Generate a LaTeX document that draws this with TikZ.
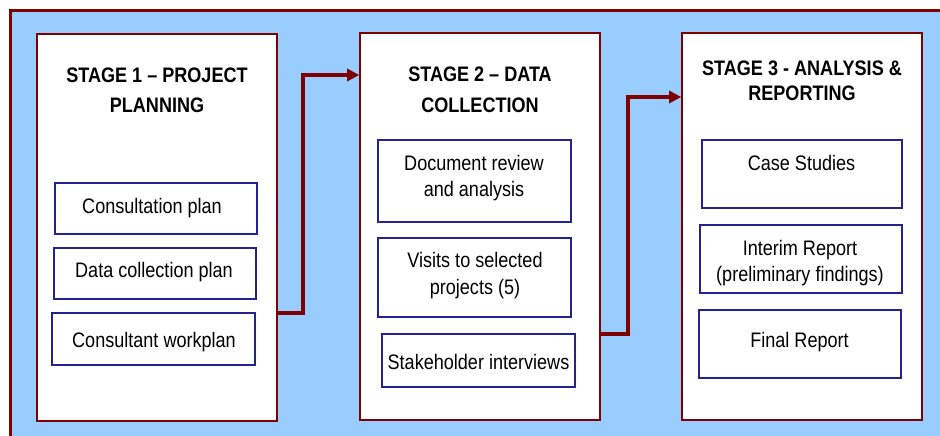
\documentclass[tikz,border=0pt]{standalone}
\usepackage{fontspec}
\setmainfont{Liberation Sans}[FakeStretch=0.86]
\usetikzlibrary{arrows.meta}
\definecolor{frameRed}{RGB}{128,0,0}
\definecolor{skyFill}{RGB}{153,204,255}
\definecolor{navyLine}{RGB}{36,36,145}
\begin{document}
\begin{tikzpicture}[x=1pt,y=-1pt,
  stagebox/.style={draw=frameRed, line width=1.6pt, fill=white, rectangle, inner sep=0pt, minimum width=240, minimum height=387},
  itembox/.style={draw=navyLine, line width=1.6pt, fill=white, rectangle, inner sep=0pt},
  titletxt/.style={anchor=base, inner sep=0pt, align=center, font=\fontsize{21}{30.5}\selectfont\bfseries},
  itemtxt/.style={anchor=base, inner sep=0pt, align=center, font=\fontsize{21}{26.5}\selectfont},
  flow/.style={draw=frameRed, line width=4pt, line join=miter, -{Triangle[length=12pt,width=12pt]}}
]
\useasboundingbox (0,0) rectangle (940,436);
\clip (0,0) rectangle (940,436);
\fill[white] (0,0) rectangle (940,436);
\draw[frameRed, line width=3pt, fill=skyFill] (10,11) rectangle (970,470);

% stages
\node[stagebox] (s1) at (157,227.5) {};
\node[stagebox] (s2) at (480,226.5) {};
\node[stagebox] (s3) at (802,226.5) {};

% multi-line nodes: base anchor = baseline of the last line
\node[titletxt] (t1) at (157,112.5) {STAGE 1 – PROJECT\\PLANNING};
\node[titletxt] (t2) at (480,112) {STAGE 2 – DATA\\COLLECTION};
\node[titletxt, font=\fontsize{21}{25}\selectfont\bfseries] (t3) at (802,100) {STAGE 3 - ANALYSIS \&\\REPORTING};

% stage 1 items
\node[itembox, minimum width=202, minimum height=51] (b11) at (156,208.5) {};
\node[itembox, minimum width=202, minimum height=51] (b12) at (155,273.5) {};
\node[itembox, minimum width=203, minimum height=52] (b13) at (153.5,339) {};
\node[itemtxt] (x11) at (152,213) {Consultation plan};
\node[itemtxt] (x12) at (154,277) {Data collection plan};
\node[itemtxt] (x13) at (154,347) {Consultant workplan};

% stage 2 items
\node[itembox, minimum width=193, minimum height=82] (b21) at (474.5,181) {};
\node[itembox, minimum width=193, minimum height=79] (b22) at (474.5,277.5) {};
\node[itembox, minimum width=193, minimum height=53] (b23) at (478.5,360.5) {};
\node[itemtxt] (x21) at (474,196.5) {Document review\\and analysis};
\node[itemtxt] (x22) at (475,294) {Visits to selected\\projects (5)};
\node[itemtxt] (x23) at (478.5,369) {Stakeholder interviews};

% stage 3 items
\node[itembox, minimum width=200, minimum height=68] (b31) at (802,174) {};
\node[itembox, minimum width=202, minimum height=68] (b32) at (801,259) {};
\node[itembox, minimum width=202, minimum height=68] (b33) at (800,344) {};
\node[itemtxt] (x31) at (801.5,170.5) {Case Studies};
\node[itemtxt] (x32) at (800,281.5) {Interim Report\\ (preliminary findings)};
\node[itemtxt] (x33) at (799.5,347) {Final Report};

% connectors
\draw[flow] (s1.east |- 0,313) -| (303,75) -- (s2.west |- 0,75);
\draw[flow] (s2.east |- 0,334) -| (628,97) -- (s3.west |- 0,97);
\end{tikzpicture}
\end{document}
